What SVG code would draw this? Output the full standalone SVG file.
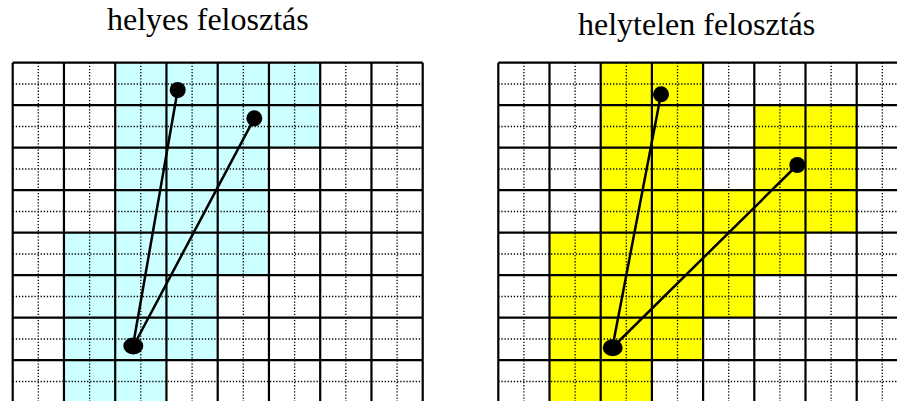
<svg xmlns="http://www.w3.org/2000/svg" width="897" height="401" viewBox="0 0 897 401">
<style>
.title{font-family:"Liberation Serif","Times New Roman",serif;font-size:32px;fill:#000}
.dot{stroke:#000;stroke-width:1.3;stroke-dasharray:1.3 1.8;fill:none}
.grid{stroke:#000;stroke-width:2.2;fill:none}
.edge{stroke:#000;stroke-width:2.5;fill:none;stroke-linecap:round}
.node{fill:#000}
</style>
<rect width="897" height="401" fill="#fff"/>
<text class="title" x="107" y="30">helyes felosztás</text>
<text class="title" x="578" y="35">helytelen felosztás</text>

<g id="left-grid">
<polygon fill="#CCFFFF" points="115.2,62.7 320.2,62.7 320.2,147.7 268.95,147.7 268.95,275.2 217.7,275.2 217.7,360.2 166.45,360.2 166.45,402.7 63.95,402.7 63.95,232.7 115.2,232.7"/>
<path class="dot" d="M38.3 62.7V401M89.6 62.7V401M140.8 62.7V401M192.1 62.7V401M243.3 62.7V401M294.6 62.7V401M345.8 62.7V401M397.1 62.7V401M12.7 84H422.7M12.7 126.5H422.7M12.7 169H422.7M12.7 211.5H422.7M12.7 254H422.7M12.7 296.5H422.7M12.7 339H422.7M12.7 381.5H422.7"/>
<path class="grid" d="M12.7 62.7V401M63.95 62.7V401M115.2 62.7V401M166.45 62.7V401M217.7 62.7V401M268.95 62.7V401M320.2 62.7V401M371.45 62.7V401M422.7 62.7V401M12.7 62.7H422.7M12.7 105.2H422.7M12.7 147.7H422.7M12.7 190.2H422.7M12.7 232.7H422.7M12.7 275.2H422.7M12.7 317.7H422.7M12.7 360.2H422.7"/>
</g>

<g id="right-grid">
<polygon fill="#FFFF00" points="600.7,62.7 703.1,62.7 703.1,190.2 754.3,190.2 754.3,105.2 856.7,105.2 856.7,232.7 805.5,232.7 805.5,275.2 754.3,275.2 754.3,317.7 703.1,317.7 703.1,360.2 651.9,360.2 651.9,402.7 549.5,402.7 549.5,232.7 600.7,232.7"/>
<path class="dot" d="M523.9 62.7V401M575.1 62.7V401M626.3 62.7V401M677.5 62.7V401M728.7 62.7V401M779.9 62.7V401M831.1 62.7V401M882.3 62.7V401M498.3 84H897M498.3 126.5H897M498.3 169H897M498.3 211.5H897M498.3 254H897M498.3 296.5H897M498.3 339H897M498.3 381.5H897"/>
<path class="grid" d="M498.3 62.7V401M549.5 62.7V401M600.7 62.7V401M651.9 62.7V401M703.1 62.7V401M754.3 62.7V401M805.5 62.7V401M856.7 62.7V401M498.3 62.7H897M498.3 105.2H897M498.3 147.7H897M498.3 190.2H897M498.3 232.7H897M498.3 275.2H897M498.3 317.7H897M498.3 360.2H897"/>
</g>

<g id="connectors">
<line class="edge" x1="133.3" y1="344" x2="177.7" y2="90"/>
<line class="edge" x1="134" y1="345" x2="254.3" y2="118.3"/>
<line class="edge" x1="612.7" y1="346" x2="661" y2="94.3"/>
<line class="edge" x1="614" y1="346" x2="797.3" y2="165"/>
</g>

<g id="node-left-top"><circle class="node" cx="177.7" cy="90" r="8"/></g>
<g id="node-left-right"><circle class="node" cx="254.3" cy="118.3" r="8"/></g>
<g id="node-left-bottom"><ellipse class="node" cx="133.3" cy="346" rx="10" ry="8.5"/></g>
<g id="node-right-top"><circle class="node" cx="661" cy="94.3" r="8"/></g>
<g id="node-right-right"><circle class="node" cx="797.3" cy="165" r="8"/></g>
<g id="node-right-bottom"><ellipse class="node" cx="612.7" cy="347.7" rx="10" ry="8.5"/></g>
</svg>
